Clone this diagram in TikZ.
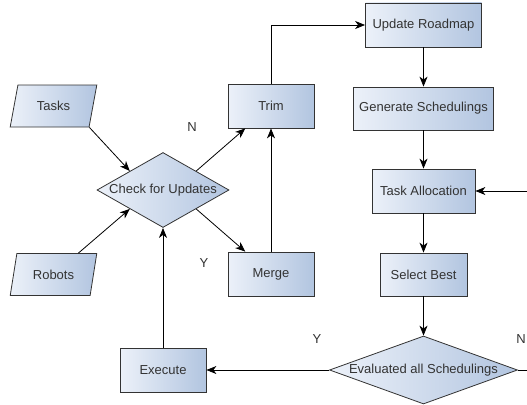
\documentclass[tikz,border=0pt]{standalone}
\usepackage{fontspec}
\setmainfont{Liberation Sans}
\usetikzlibrary{shapes.geometric,arrows.meta,calc}
\definecolor{boxlight}{RGB}{236,241,249}
\definecolor{boxdark}{RGB}{178,197,224}
\definecolor{edgegray}{RGB}{51,51,51}
\begin{document}
\begin{tikzpicture}[x=1pt,y=-1pt,
  every node/.style={font=\fontsize{13}{15}\selectfont,text=edgegray},
  boxfill/.style={draw=edgegray,line width=0.8pt,left color=boxlight,right color=boxdark},
  box/.style={boxfill,rectangle,minimum width=86pt,minimum height=44pt},
  decision/.style={boxfill,diamond,inner sep=0pt},
  io/.style={boxfill,trapezium,trapezium left angle=75,trapezium right angle=105,trapezium stretches=true,minimum width=87pt,minimum height=42pt},
  arr/.style={-{Stealth[length=10pt,width=8pt,inset=3pt]},line width=0.8pt}]
\useasboundingbox (0,0) rectangle (527,404);
\clip (0,0) rectangle (527,404);
% left side
\node[io] (tasks) at (53.5,106) {Tasks};
\node[io] (robots) at (53.5,274.5) {Robots};
\node[decision,minimum width=132pt,minimum height=75pt] (check) at (163,190) {\makebox[0pt]{Check for Updates}};
\node[box] (trim) at (271,106) {Trim};
\node[box] (merge) at (271,274) {Merge};
\node[box] (execute) at (163,370) {Execute};
% right column
\node[box,minimum width=116pt] (roadmap) at (423.5,25) {Update Roadmap};
\node[box,minimum width=140pt,minimum height=43pt] (gen) at (423.5,108.5) {Generate Schedulings};
\node[box,minimum width=103pt] (alloc) at (423.5,191) {Task Allocation};
\node[box,minimum width=87pt,minimum height=43pt] (best) at (423.5,274.5) {Select Best};
\node[decision,minimum width=188pt,minimum height=68pt] (eval) at (423.5,370) {\makebox[0pt]{Evaluated all Schedulings}};
\coordinate (back) at (545,280);
% connectors
\draw[arr] (tasks.bottom right corner) -- (check.north west);
\draw[arr] (robots) -- (check.south west);
\draw[arr] (check.north east) -- (trim);
\draw[arr] (check.south east) -- (merge);
\draw[arr] (merge) -- (trim);
\draw[arr] (trim.north) |- (roadmap.west);
\foreach \a/\b in {roadmap/gen,gen/alloc,alloc/best,best/eval}{\draw[arr] (\a) -- (\b);}
\draw[arr] (eval) -- (execute);
\draw[arr] (execute) -- (check);
\draw[arr] (eval.east) -| (back) |- (alloc.east);
% branch labels
\node (ncheck) at (192,127) {N};
\node (ycheck) at (204,263) {Y};
\node (yeval) at (317,339) {Y};
\node (neval) at (521,339) {N};
\end{tikzpicture}
\end{document}
